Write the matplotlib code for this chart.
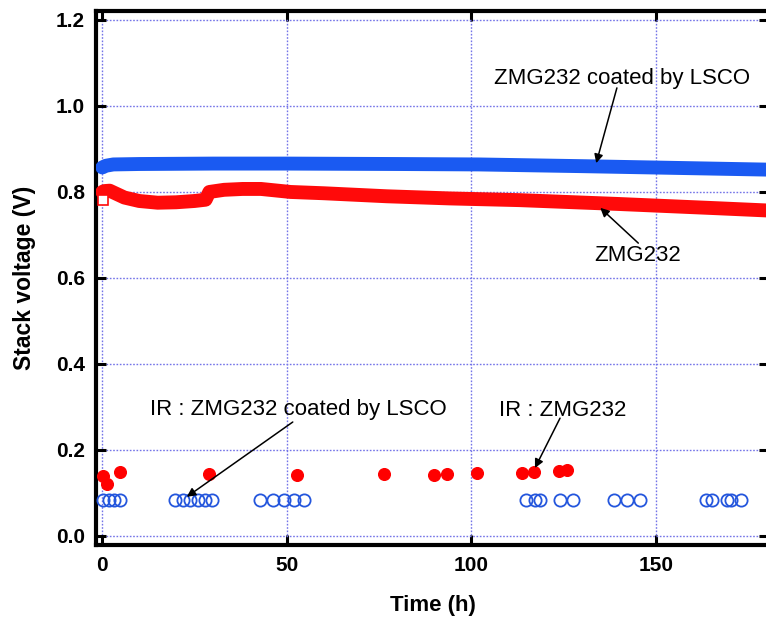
import matplotlib
matplotlib.use("Agg")
import matplotlib.pyplot as plt

# ---- data ----
blue_t = [0, 1, 3, 10, 30, 50, 80, 102, 130, 155, 180]
blue_v = [0.857, 0.861, 0.864, 0.865, 0.866, 0.866, 0.865, 0.864, 0.860, 0.856, 0.852]

red_t = [0, 0.5, 2, 4, 6, 10, 15, 20, 25, 28, 29, 33, 38, 43, 51, 60, 77, 94, 113, 140, 167, 180]
red_v = [0.800, 0.802, 0.803, 0.795, 0.787, 0.779, 0.775, 0.776, 0.779, 0.782, 0.800, 0.805,
         0.807, 0.807, 0.800, 0.797, 0.790, 0.785, 0.781, 0.772, 0.762, 0.757]

red_sq_t = [0.3]
red_sq_v = [0.782]

ir_red_t = [0.2, 1.4, 4.7, 28.8, 52.8, 76.4, 89.8, 93.4, 101.4, 113.7, 116.9, 123.7, 125.9]
ir_red_v = [0.140, 0.121, 0.148, 0.144, 0.142, 0.143, 0.142, 0.143, 0.146, 0.147, 0.148, 0.151, 0.153]

ir_blue_t = [0.2, 1.7, 3.1, 4.9, 19.8, 21.9, 23.8, 25.8, 27.9, 29.7, 42.6, 46.3, 49.3, 52.0, 54.6,
             114.9, 117.3, 118.5, 124.1, 127.5, 138.6, 142.2, 145.6, 163.4, 165.2, 169.1, 170.2, 173.1]
ir_blue_v = [0.084] * len(ir_blue_t)

xticks = [0, 50, 100, 150]
yticks = [0.0, 0.2, 0.4, 0.6, 0.8, 1.0, 1.2]

plt.rcParams['font.family'] = ['Liberation Sans', 'DejaVu Sans']

fig = plt.figure(figsize=(7.66, 6.2), dpi=100)
ax = fig.add_axes([96 / 766, 75 / 620, (769 - 96) / 766, (545 - 10.5) / 620])

gridc = '#7474e8'
ax.grid(True, color=gridc, linestyle=(0, (1.2, 1.2)), linewidth=1.0, zorder=0)
ax.set_axisbelow(True)

ax.plot(blue_t, blue_v, color='#1a5af2', lw=10, solid_capstyle='round', zorder=3)
ax.plot(red_t, red_v, color='#ff0a0a', lw=10, solid_capstyle='round', zorder=3)
ax.plot(red_sq_t, red_sq_v, linestyle='none', marker='s', ms=7, mfc='white', mec='#ff0a0a', mew=1.2, zorder=4)

ax.plot(ir_red_t, ir_red_v, linestyle='none', marker='o', ms=8.4, mfc='#ff0000', mec='#ff0000', zorder=4)
ax.plot(ir_blue_t, ir_blue_v, linestyle='none', marker='o', ms=8.8, mfc='none', mec='#2456dd', mew=1.3, zorder=4)

ax.set_xlim(-1.7, 180.6)
ax.set_ylim(-0.021, 1.222)
ax.set_xticks(xticks)
ax.set_yticks(yticks)
ax.set_yticklabels([f"{v:.1f}" for v in yticks])

for s in ax.spines.values():
    s.set_linewidth(3)
ax.tick_params(direction='in', length=7, width=2.2, top=True, right=True,
               labelsize=15, pad=8)
for lab in ax.get_xticklabels() + ax.get_yticklabels():
    lab.set_fontweight('bold')

ax.set_xlabel('Time (h)', fontsize=16, fontweight='bold', labelpad=14)
ax.set_ylabel('Stack voltage (V)', fontsize=16.5, fontweight='bold', labelpad=14)

arr = dict(arrowstyle='-|>', color='black', lw=1.1, mutation_scale=13, shrinkA=0, shrinkB=0)
tsize = 16
ax.text(140.8, 1.065, 'ZMG232 coated by LSCO', ha='center', va='center', fontsize=tsize, zorder=6)
ax.annotate('', xy=(133.8, 0.867), xytext=(139.4, 1.042), arrowprops=arr, zorder=6)

ax.text(144.9, 0.653, 'ZMG232', ha='center', va='center', fontsize=tsize, zorder=6)
ax.annotate('', xy=(134.9, 0.763), xytext=(145.2, 0.681), arrowprops=arr, zorder=6)

ax.text(53.0, 0.293, 'IR : ZMG232 coated by LSCO', ha='center', va='center', fontsize=tsize, zorder=6)
ax.annotate('', xy=(22.9, 0.091), xytext=(51.6, 0.265), arrowprops=arr, zorder=6)

ax.text(124.6, 0.291, 'IR : ZMG232', ha='center', va='center', fontsize=tsize, zorder=6)
ax.annotate('', xy=(117.2, 0.158), xytext=(124.0, 0.274), arrowprops=arr, zorder=6)

fig.savefig('out.png', dpi=100)
